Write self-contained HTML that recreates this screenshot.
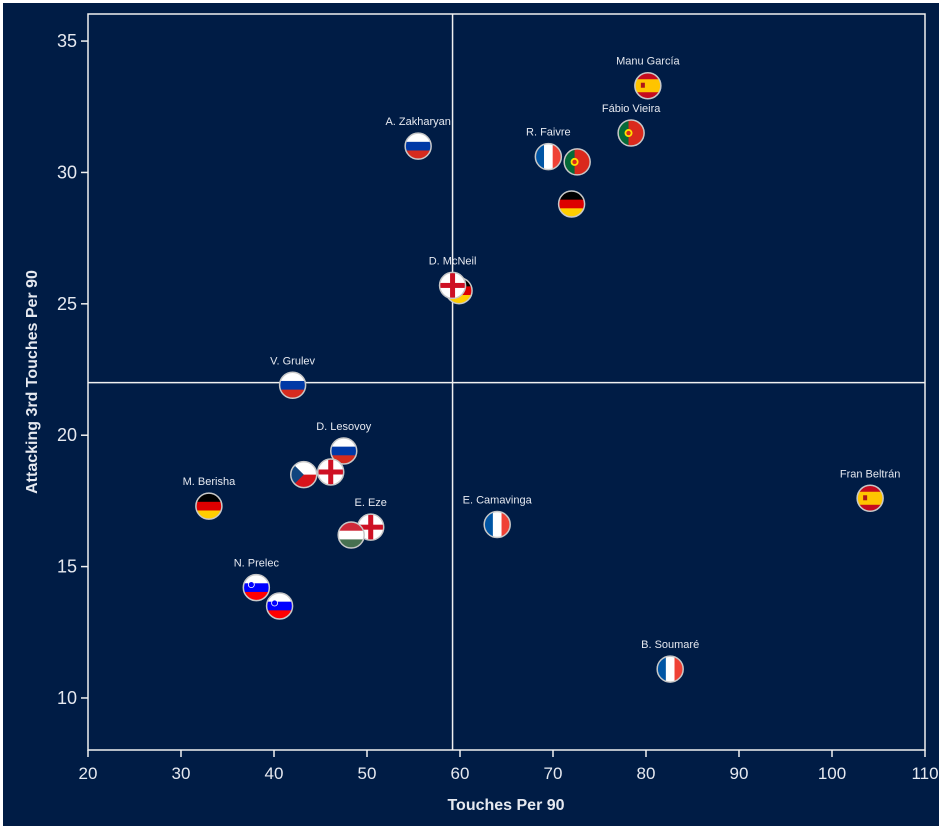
<!DOCTYPE html>
<html><head><meta charset="utf-8"><style>
html,body{margin:0;padding:0;background:#fff}
svg{display:block}
text{font-family:"Liberation Sans",sans-serif}
</style></head><body>
<svg id="chart" width="942" height="831" viewBox="0 0 942 831">
<rect x="3" y="3" width="936" height="823" fill="#001c45"/>
<g id="axes"></g>
<g id="marks"></g>
<text x="506" y="810" text-anchor="middle" fill="#e6e9f0" font-size="16" font-weight="bold">Touches Per 90</text>
<text transform="translate(37,382) rotate(-90)" text-anchor="middle" fill="#e6e9f0" font-size="16" font-weight="bold">Attacking 3rd Touches Per 90</text>
</svg>
<script>
const xTicks=[20,30,40,50,60,70,80,90,100,110];
const yTicks=[10,15,20,25,30,35];
const players=["Manu García","Fábio Vieira","R. Faivre","","","A. Zakharyan","","D. McNeil","V. Grulev","D. Lesovoy","","","M. Berisha","E. Eze","","E. Camavinga","N. Prelec","","Fran Beltrán","B. Soumaré"];
const countries=["es","pt","fr","pt","de","ru","de","gb","ru","ru","cz","gb","de","gb","hu","fr","si","si","es","fr"];
const touches=[80.2,78.4,69.5,72.6,72.0,55.5,59.9,59.2,42.0,47.5,43.2,46.1,33.0,50.4,48.3,64.0,38.1,40.6,104.1,82.6];
const att3rd=[33.3,31.5,30.6,30.4,28.8,31.0,25.5,25.7,21.9,19.4,18.5,18.6,17.3,16.5,16.2,16.6,14.2,13.5,17.6,11.1];
const xRef=59.2, yRef=22.0;

const NS="http://www.w3.org/2000/svg";
const L=88,R=925,T=14,B=750;
const xMin=20,xMax=110,yMin=8.02,yMax=36.03;
const xs=v=>L+(v-xMin)/(xMax-xMin)*(R-L);
const ys=v=>B-(v-yMin)/(yMax-yMin)*(B-T);
function mk(tag,attrs,parent){const e=document.createElementNS(NS,tag);for(const k in attrs)e.setAttribute(k,attrs[k]);parent.appendChild(e);return e;}
const axes=document.getElementById('axes'), marks=document.getElementById('marks');
let e;
e=mk('rect',{x:L,y:T,width:R-L,height:B-T,fill:'none',stroke:'#f0f0f0','stroke-width':1.5},axes);


xTicks.forEach(t=>{
 e=mk('line',{x1:xs(t),x2:xs(t),y1:B,y2:B+7,stroke:'#f0f0f0','stroke-width':1.5},axes);
 
 
 e=mk('text',{x:xs(t),y:B+29,'text-anchor':'middle',fill:'#e6e9f0','font-size':17},axes);e.textContent=t;
 
 
});
yTicks.forEach(t=>{
 e=mk('line',{x1:L-7,x2:L,y1:ys(t),y2:ys(t),stroke:'#f0f0f0','stroke-width':1.5},axes);
 
 
 e=mk('text',{x:L-11,y:ys(t)+6,'text-anchor':'end',fill:'#e6e9f0','font-size':18},axes);e.textContent=t;
 
 
});
e=mk('line',{x1:xs(xRef),x2:xs(xRef),y1:T,y2:B,stroke:'#f0f0f0','stroke-width':1.5},axes);


e=mk('line',{x1:L,x2:R,y1:ys(yRef),y2:ys(yRef),stroke:'#f0f0f0','stroke-width':1.5},axes);



const r=13;
function hstripes(g,cx,cy,cols){const h=2*r/cols.length;cols.forEach((c,i)=>mk('rect',{x:cx-r,y:cy-r+i*h,width:2*r,height:h+0.5,fill:c},g));}
function vstripes(g,cx,cy,cols){const w=2*r/cols.length;cols.forEach((c,i)=>mk('rect',{x:cx-r+i*w,y:cy-r,width:w+0.5,height:2*r,fill:c},g));}
function flag(g,c,cx,cy){
 if(c==='es'){hstripes(g,cx,cy,['#c60b1e','#ffc400','#ffc400','#c60b1e']);mk('rect',{x:cx-7,y:cy-3,width:4,height:5,fill:'#ad1519'},g);}
 else if(c==='pt'){mk('rect',{x:cx-r,y:cy-r,width:2*r,height:2*r,fill:'#da291c'},g);mk('rect',{x:cx-r,y:cy-r,width:r*0.8,height:2*r,fill:'#046a38'},g);mk('circle',{cx:cx-r+r*0.8,cy:cy,r:4,fill:'#ffe000'},g);mk('circle',{cx:cx-r+r*0.8,cy:cy,r:2.2,fill:'#da291c'},g);}
 else if(c==='fr')vstripes(g,cx,cy,['#0055a4','#ffffff','#ef4135']);
 else if(c==='de')hstripes(g,cx,cy,['#000000','#dd0000','#ffce00']);
 else if(c==='ru')hstripes(g,cx,cy,['#ffffff','#0039a6','#d52b1e']);
 else if(c==='hu')hstripes(g,cx,cy,['#ce2939','#ffffff','#477050']);
 else if(c==='si'){hstripes(g,cx,cy,['#ffffff','#0000ff','#ff0000']);mk('circle',{cx:cx-5,cy:cy-3,r:3,fill:'#0000ff',stroke:'#fff','stroke-width':0.8},g);}
 else if(c==='cz'){hstripes(g,cx,cy,['#ffffff','#d7141a']);mk('polygon',{points:`${cx-r},${cy-r} ${cx},${cy} ${cx-r},${cy+r}`,fill:'#11457e'},g);}
 else if(c==='gb'){mk('rect',{x:cx-r,y:cy-r,width:2*r,height:2*r,fill:'#ffffff'},g);mk('rect',{x:cx-2.5,y:cy-r,width:5,height:2*r,fill:'#ce1124'},g);mk('rect',{x:cx-r,y:cy-2.5,width:2*r,height:5,fill:'#ce1124'},g);}
}
const defs=mk('defs',{},marks);
const seq=touches.map((_,i)=>i);
seq.forEach(i=>{
 const cx=xs(touches[i]),cy=ys(att3rd[i]);
 const cp=mk('clipPath',{id:'cp'+i},defs);mk('circle',{cx:cx,cy:cy,r:r},cp);
 const g=mk('g',{},marks);
 
 
 const fg=mk('g',{'clip-path':'url(#cp'+i+')'},g);
 flag(fg,countries[i],cx,cy);
 mk('circle',{cx:cx,cy:cy,r:r,fill:'none',stroke:'#c8c8c8','stroke-width':1.5},g);
});
seq.forEach(i=>{
 if(players[i]){
  const t=mk('text',{x:xs(touches[i]),y:ys(att3rd[i])-21,'text-anchor':'middle',fill:'#e6e9f0','font-size':11},marks);
  t.textContent=players[i];
  
  
 }
});
</script>
</body></html>
